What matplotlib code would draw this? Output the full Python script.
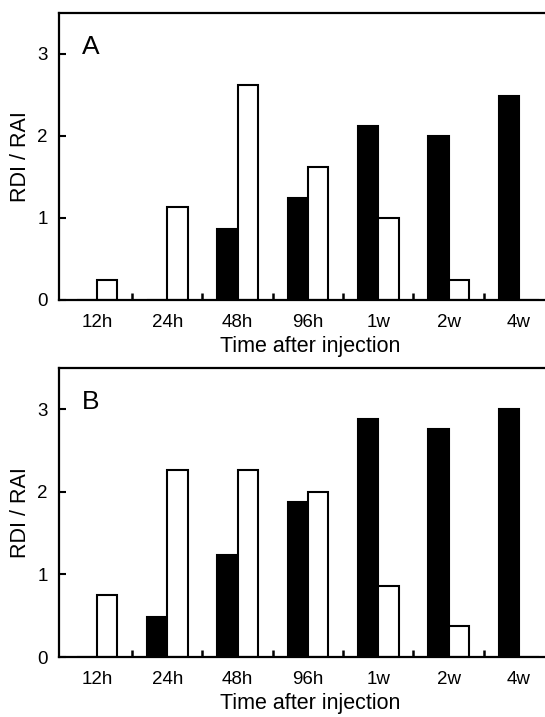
import matplotlib
matplotlib.use("Agg")
import matplotlib.pyplot as plt
import numpy as np

plt.rcParams['font.family'] = ['Liberation Sans', 'DejaVu Sans']

categories = ["12h", "24h", "48h", "96h", "1w", "2w", "4w"]
a_black = [0, 0, 0.87, 1.24, 2.12, 2.00, 2.49]
a_white = [0.24, 1.13, 2.62, 1.62, 1.00, 0.24, 0]
b_black = [0, 0.49, 1.24, 1.88, 2.88, 2.76, 3.00]
b_white = [0.75, 2.27, 2.27, 2.00, 0.86, 0.37, 0]
panels = [("A", a_black, a_white), ("B", b_black, b_white)]
yticks = [0, 1, 2, 3]

W, H = 545, 717
fig = plt.figure(figsize=(W / 100, H / 100), dpi=100)

rects = [
    [59 / W, 1 - 300 / H, (W - 59) / W, 287 / H],
    [59 / W, 1 - 657 / H, (W - 59) / W, 289 / H],
]

x = np.arange(len(categories))
bw = 0.29
for rect, (lab, blk, wht) in zip(rects, panels):
    ax = fig.add_axes(rect)
    ax.bar(x - bw, blk, width=bw, align='edge', color='black', edgecolor='black', linewidth=1.5)
    ax.bar(x, wht, width=bw, align='edge', color='white', edgecolor='black', linewidth=1.5)
    ax.set_xlim(-0.54, 6.37)
    ax.set_ylim(0, 3.5)
    ax.set_yticks(yticks)
    ax.set_yticklabels([str(t) for t in yticks], fontsize=13.5)
    ax.set_xticks(x)
    ax.set_xticklabels(categories, fontsize=13.5)
    ax.set_xticks(np.arange(0.5, len(categories) - 1, 1.0), minor=True)
    ax.tick_params(axis='x', which='major', length=0, pad=10)
    ax.tick_params(axis='x', which='minor', direction='in', length=5, width=1.8)
    ax.tick_params(axis='y', which='major', direction='in', length=5, width=1.5, pad=8)
    for s in ['left', 'bottom', 'top']:
        ax.spines[s].set_linewidth(1.6)
    ax.spines['right'].set_visible(False)
    ax.set_ylabel("RDI / RAI", fontsize=15.5)
    ax.yaxis.set_label_coords(-0.058, 0.5)
    ax.set_xlabel("Time after injection", fontsize=15.5, labelpad=4)
    ax.xaxis.label.set_x(0.516)
    ax.text(-0.21, 3.0, lab, fontsize=19, ha='left', va='baseline')

fig.savefig("out.png", dpi=100)
